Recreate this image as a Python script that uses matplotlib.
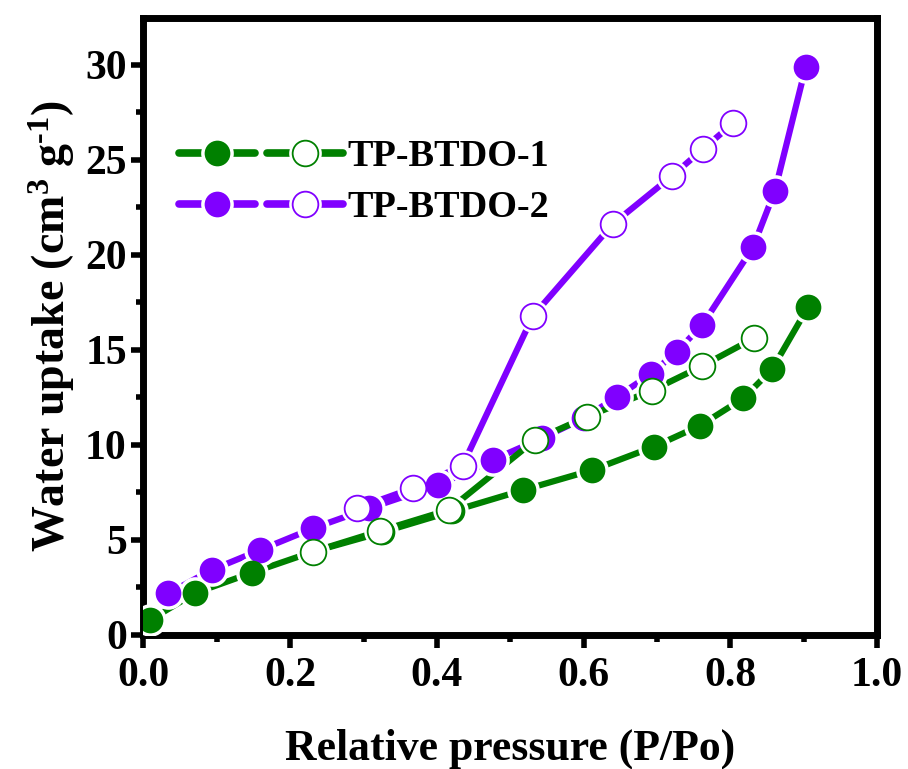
import matplotlib
matplotlib.use('Agg')
import matplotlib.pyplot as plt
from matplotlib.lines import Line2D
from matplotlib.legend_handler import HandlerTuple
from matplotlib.ticker import MultipleLocator, FormatStrFormatter

plt.rcParams['font.family'] = ['Liberation Serif', 'DejaVu Serif']
plt.rcParams['font.weight'] = 'bold'
plt.rcParams['mathtext.fontset'] = 'custom'
plt.rcParams['mathtext.rm'] = 'Liberation Serif:bold'
plt.rcParams['mathtext.it'] = 'Liberation Serif:bold'
plt.rcParams['mathtext.bf'] = 'Liberation Serif:bold'

# ---- data ----
p1_ads_x = [0.009, 0.070, 0.148, 0.231, 0.325, 0.420, 0.518, 0.612, 0.696, 0.759, 0.818, 0.857, 0.906]
p1_ads_y = [0.79, 2.20, 3.28, 4.38, 5.40, 6.50, 7.63, 8.68, 9.91, 11.02, 12.46, 13.98, 17.25]
p1_des_x = [0.832, 0.762, 0.693, 0.605, 0.534, 0.416, 0.322, 0.231]
p1_des_y = [15.61, 14.16, 12.86, 11.49, 10.26, 6.58, 5.47, 4.38]

p2_ads_x = [0.034, 0.093, 0.159, 0.231, 0.308, 0.402, 0.476, 0.543, 0.600, 0.646, 0.692, 0.727, 0.762, 0.831, 0.861, 0.903]
p2_ads_y = [2.19, 3.42, 4.47, 5.61, 6.67, 7.89, 9.21, 10.35, 11.40, 12.54, 13.74, 14.91, 16.32, 20.40, 23.39, 29.91]
p2_des_x = [0.804, 0.763, 0.721, 0.640, 0.531, 0.435, 0.367, 0.291]
p2_des_y = [26.93, 25.58, 24.17, 21.63, 16.79, 8.91, 7.72, 6.67]

labels = ['TP-BTDO-1', 'TP-BTDO-2']
green = '#008000'
purple = '#8000FF'

x_ticks = [0.0, 0.2, 0.4, 0.6, 0.8, 1.0]
y_ticks = [0, 5, 10, 15, 20, 25, 30]

fig = plt.figure(figsize=(9.08, 7.69), dpi=100)
ax = fig.add_axes([0.158, 0.1743, 0.8078, 0.8023])

LW = 4.5
MS = 18.5
HALO = 23.5

def draw(x, y, color, filled, z):
    ax.plot(x, y, '-', color=color, lw=LW, solid_capstyle='round',
            solid_joinstyle='round', zorder=2)
    ax.plot(x, y, 'o', ls='none', ms=HALO, mfc='white', mec='none', zorder=3)
    ax.plot(x, y, 'o', ls='none', ms=MS, mfc=color if filled else 'white',
            mec=color, mew=0 if filled else 1.3, zorder=z)

draw(p2_ads_x, p2_ads_y, purple, True, 4.0)
draw(p2_des_x, p2_des_y, purple, False, 4.1)
draw(p1_ads_x, p1_ads_y, green, True, 4.2)
draw(p1_des_x, p1_des_y, green, False, 4.3)

ax.set_xlim(0, 1.0)
ax.set_ylim(0, 32.47)
ax.set_xticks(x_ticks)
ax.set_yticks(y_ticks)
ax.xaxis.set_minor_locator(MultipleLocator(0.1))
ax.yaxis.set_minor_locator(MultipleLocator(2.5))
ax.xaxis.set_major_formatter(FormatStrFormatter('%.1f'))

for s in ax.spines.values():
    s.set_linewidth(5)
ax.tick_params(which='major', direction='out', length=9, width=4, labelsize=30)
ax.tick_params(axis='x', which='major', pad=7)
ax.tick_params(axis='y', which='major', pad=3)
ax.tick_params(which='minor', direction='out', length=5, width=4)

# small ticks on top / right
sec = ax.secondary_xaxis('top')
sec.set_xticks(x_ticks)
sec.xaxis.set_minor_locator(MultipleLocator(0.1))
sec.tick_params(which='both', direction='out', length=1.5, width=3, labeltop=False)
sec.spines['top'].set_linewidth(0)
sec = ax.secondary_yaxis('right')
sec.set_yticks(y_ticks)
sec.yaxis.set_minor_locator(MultipleLocator(2.5))
sec.tick_params(which='both', direction='out', length=1.5, width=3, labelright=False)
sec.spines['right'].set_linewidth(0)

ax.set_xlabel('Relative pressure (P/Po)', fontsize=31.5, fontweight='bold', labelpad=24)
ax.set_ylabel('Water uptake (cm$^{3}$ g$^{\\text{-1}}$)', fontsize=33, fontweight='bold', labelpad=6)

def handle(color):
    h_f = (Line2D([], [], color=color, lw=LW + 1, solid_capstyle='round'),
           Line2D([], [], ls='none', marker='o', ms=HALO, mfc='white', mec='none'),
           Line2D([], [], ls='none', marker='o', ms=MS, mfc=color, mec=color, mew=0))
    h_o = (Line2D([], [], color=color, lw=LW + 1, solid_capstyle='round'),
           Line2D([], [], ls='none', marker='o', ms=HALO, mfc='white', mec='none'),
           Line2D([], [], ls='none', marker='o', ms=MS, mfc='white', mec=color, mew=1.3))
    return (h_f, h_o)

hs = [handle(green), handle(purple)]
hmap = {h: HandlerTuple(ndivide=None, pad=0.3) for h in hs}
leg = ax.legend(hs, labels, handler_map=hmap, loc='upper left',
                bbox_to_anchor=(179 / 908, 1 - 139 / 769), bbox_transform=fig.transFigure,
                frameon=False, fontsize=27.5, handlelength=4.3, handletextpad=0.12,
                labelspacing=0.42, borderpad=0, borderaxespad=0, numpoints=1)

fig.savefig('out.png', dpi=100)
